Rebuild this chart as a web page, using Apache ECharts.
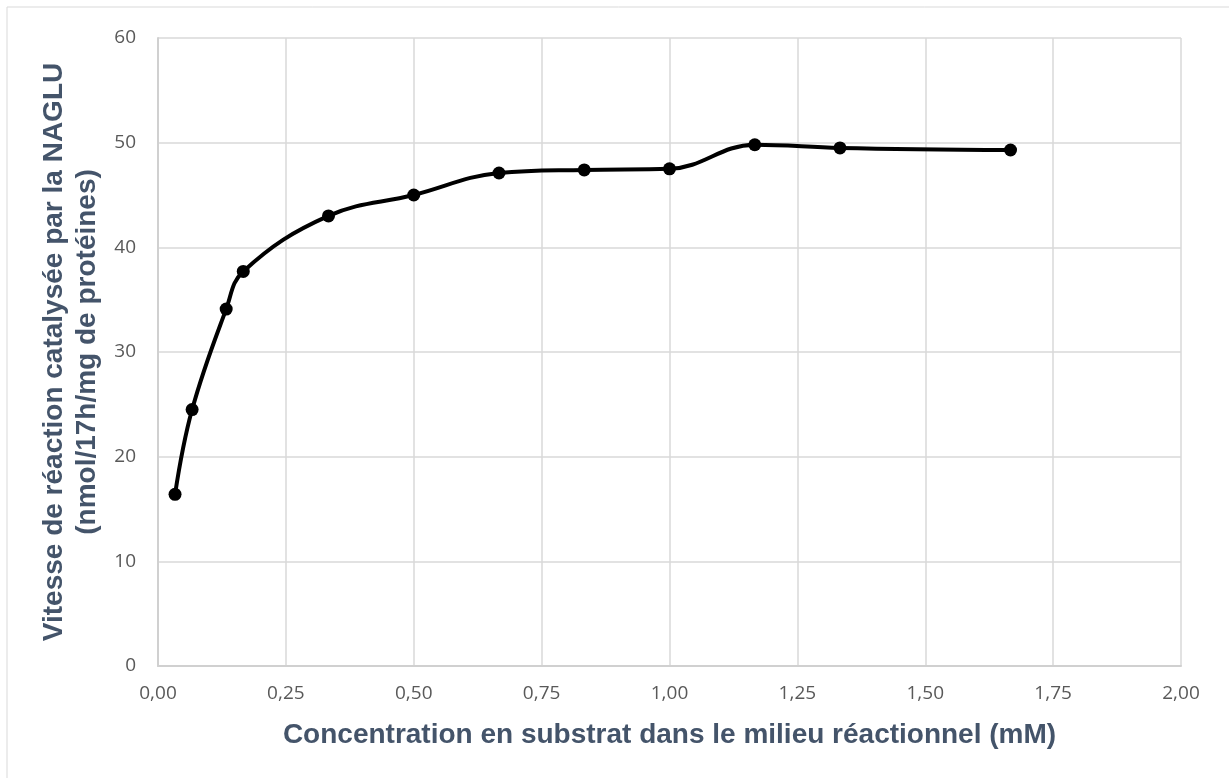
<!DOCTYPE html>
<html>
<head>
<meta charset="utf-8">
<title>Vitesse de réaction NAGLU</title>
<script src="https://cdn.jsdelivr.net/npm/echarts@6/dist/echarts.min.js"></script>
<style>
  html, body { margin: 0; padding: 0; background: #fff; }
  #chart { width: 1229px; height: 778px; }
</style>
</head>
<body>
<div id="chart"></div>
<script>
;(function () {

    'use strict';

    // substrate concentration (mM)
    var concentrations = [0.0333, 0.0667, 0.1333, 0.1667, 0.3333, 0.5, 0.6667, 0.8333, 1.0, 1.1667, 1.3333, 1.6667];
    // reaction rate (nmol/17h/mg de protéines)
    var rates = [16.4, 24.5, 34.1, 37.7, 43.0, 45.0, 47.1, 47.4, 47.5, 49.8, 49.5, 49.3];

    var xTicks = { min: 0, max: 2, interval: 0.25 };
    var yTicks = { min: 0, max: 60, interval: 10 };

    var xTitle = 'Concentration en substrat dans le milieu réactionnel (mM)';
    var yTitle = 'Vitesse de réaction catalysée par la NAGLU\n(nmol/17h/mg de protéines)';

    var titleColor = '#44546a';
    var labelColor = '#595959';
    var gridColor = '#d9d9d9';

    var buildData = function () {
        var out = [];
        for (var i = 0; i < concentrations.length; i++) {
            out.push([concentrations[i], rates[i]]);
        }
        return out;
    };

    var kineticsChart = function () {
        var myChart = echarts.init(document.getElementById('chart'));

        var option = {
            animation: false,
            backgroundColor: '#fff',
            graphic: [
                {
                    type: 'rect',
                    shape: { x: 7, y: 7, width: 1240, height: 800 },
                    style: { fill: 'none', stroke: '#d9d9d9', lineWidth: 1 },
                    z: -1
                }
            ],
            grid: { left: 158, right: 48, top: 38, bottom: 112 },
            xAxis: {
                type: 'value',
                min: xTicks.min,
                max: xTicks.max,
                interval: xTicks.interval,
                name: xTitle,
                nameLocation: 'middle',
                nameGap: 55,
                nameTextStyle: {
                    color: titleColor,
                    fontFamily: 'Liberation Sans, Arial, sans-serif',
                    fontWeight: 'bold',
                    fontSize: 28
                },
                axisLine: { show: true, lineStyle: { color: '#d0d0d0', width: 2 } },
                axisTick: { show: false },
                axisLabel: {
                    margin: 18,
                    color: labelColor,
                    fontFamily: 'Open Sans, sans-serif',
                    fontSize: 19,
                    formatter: function (v) { return v.toFixed(2).replace('.', ','); }
                },
                splitLine: { show: true, lineStyle: { color: gridColor, width: 1.5 } }
            },
            yAxis: {
                type: 'value',
                min: yTicks.min,
                max: yTicks.max,
                interval: yTicks.interval,
                name: yTitle,
                nameLocation: 'middle',
                nameRotate: 90,
                nameGap: 50,
                nameTextStyle: {
                    color: titleColor,
                    fontFamily: 'Liberation Sans, Arial, sans-serif',
                    fontWeight: 'bold',
                    fontSize: 28,
                    lineHeight: 33
                },
                axisLine: { show: true, lineStyle: { color: '#d0d0d0', width: 2 } },
                axisTick: { show: false },
                axisLabel: {
                    margin: 22,
                    color: labelColor,
                    fontFamily: 'Open Sans, sans-serif',
                    fontSize: 19
                },
                splitLine: { show: true, lineStyle: { color: gridColor, width: 1.5 } }
            },
            series: [
                {
                    type: 'line',
                    data: buildData(),
                    smooth: 0.4,
                    symbol: 'circle',
                    symbolSize: 13,
                    showAllSymbol: true,
                    lineStyle: { color: '#000', width: 4 },
                    itemStyle: { color: '#000' }
                }
            ]
        };
        myChart.setOption(option);
    };

    kineticsChart();

}());
</script>
</body>
</html>
